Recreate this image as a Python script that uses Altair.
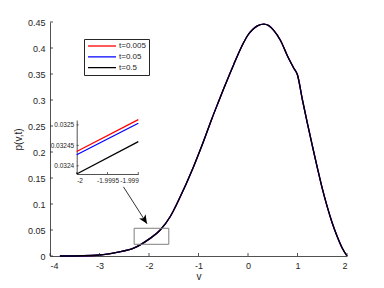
import altair as alt
import pandas as pd

# ---- data ----
series = ["t=0.005", "t=0.05", "t=0.5"]
colors = ["#ff0000", "#0000ff", "#000000"]

v_main = [-3.8, -3.33, -3.0, -2.65, -2.31, -2.0, -1.773, -1.57, -1.40, -1.10, -0.90,
          -0.73, -0.59, -0.49, -0.29, -0.09, 0.0, 0.1, 0.2, 0.32, 0.42, 0.52, 0.66, 0.80,
          0.92, 1.0, 1.1, 1.2, 1.3, 1.4, 1.5, 1.6, 1.7, 1.8, 1.9, 2.0]
p_main = [0.0, 0.0005, 0.0019, 0.0071, 0.0150, 0.0324, 0.050, 0.076, 0.1077, 0.1717, 0.220,
          0.264, 0.298, 0.322, 0.368, 0.410, 0.425, 0.436, 0.443, 0.446, 0.443, 0.434, 0.414,
          0.384, 0.362, 0.348, 0.300, 0.255, 0.212, 0.170, 0.130, 0.095, 0.064, 0.038, 0.016,
          0.0]

inset_v = [-2.0, -1.999]
inset_red = [0.032435, 0.032513]
inset_blue = [0.032427, 0.032504]
inset_black = [0.032380, 0.032459]

main_xticks = [-4, -3, -2, -1, 0, 1, 2]
main_yticks = [0, 0.05, 0.1, 0.15, 0.2, 0.25, 0.3, 0.35, 0.4, 0.45]
inset_xticks = [-2, -1.9995, -1.999]
inset_yticks = [0.0324, 0.03245, 0.0325]

zoom_box_v = [-2.3, -1.6]
zoom_box_p = [0.0225, 0.0533]
arrow_v = [-2.516, -2.04]
arrow_p = [0.133, 0.062]

AX = "#262626"
W, H = 297, 234

# ---- main panel ----
xs = alt.Scale(domain=[-4, 2], nice=False, zero=False)
ys = alt.Scale(domain=[0, 0.45], nice=False, zero=False)

df_main = pd.DataFrame([
    {"v": v, "p": p, "t": s}
    for s in series for v, p in zip(v_main, p_main)
])

xaxis = alt.Axis(values=main_xticks, title="v", tickSize=0, labelPadding=5,
                 titleY=23, titleBaseline="alphabetic", labelExpr="'' + datum.value",
                 grid=False, labelFontSize=9, titleFontSize=10)
yaxis = alt.Axis(values=main_yticks, title="p(v,t)", tickSize=0, labelPadding=5,
                 titlePadding=4, labelExpr="'' + datum.value", grid=False,
                 labelFontSize=9, titleFontSize=10)

legend = alt.Legend(title=None, orient="none", legendX=34, legendY=17,
                    symbolType="stroke", symbolSize=784, symbolStrokeWidth=1.3,
                    clipHeight=8, labelFontSize=8, labelOffset=2, padding=3,
                    rowPadding=2.8, strokeColor=AX, fillColor="white", labelColor=AX)

base = alt.Chart(df_main).mark_line(strokeWidth=1.3, interpolate="monotone").encode(
    x=alt.X("v:Q", scale=xs, axis=xaxis),
    y=alt.Y("p:Q", scale=ys, axis=yaxis),
    color=alt.Color("t:N", scale=alt.Scale(domain=series, range=colors), legend=legend),
)
main_lines = [base.transform_filter(alt.datum.t == s) for s in series]

xt = alt.Chart(pd.DataFrame({"v": main_xticks})).mark_rule(color=AX, strokeWidth=0.8).encode(
    x=alt.X("v:Q", scale=xs, axis=xaxis), y=alt.value(H), y2=alt.value(H - 3))
yt = alt.Chart(pd.DataFrame({"p": main_yticks})).mark_rule(color=AX, strokeWidth=0.8).encode(
    y=alt.Y("p:Q", scale=ys, axis=yaxis), x=alt.value(0), x2=alt.value(3))

box = alt.Chart(pd.DataFrame({"v1": [zoom_box_v[0]], "v2": [zoom_box_v[1]],
                              "p1": [zoom_box_p[0]], "p2": [zoom_box_p[1]]})).mark_rect(
    fillOpacity=0, stroke="#7f7f7f", strokeWidth=1).encode(
    x=alt.X("v1:Q", scale=xs, axis=xaxis), x2="v2:Q",
    y=alt.Y("p1:Q", scale=ys, axis=yaxis), y2="p2:Q")

arrow_df = pd.DataFrame({"v": arrow_v, "p": arrow_p, "i": [0, 1]})
arrow_line = alt.Chart(arrow_df).mark_line(color="#000000", strokeWidth=0.8).encode(
    x=alt.X("v:Q", scale=xs, axis=xaxis), y=alt.Y("p:Q", scale=ys, axis=yaxis), order="i:Q")
arrow_head = alt.Chart(arrow_df.iloc[[1]]).mark_point(
    shape="M0,0L-0.45,1L0,0.75L0.45,1Z", filled=True, color="#000000", opacity=1,
    size=300, angle=147).encode(
    x=alt.X("v:Q", scale=xs, axis=xaxis), y=alt.Y("p:Q", scale=ys, axis=yaxis))

main = alt.layer(*main_lines, box, arrow_line, arrow_head, xt, yt)

# ---- inset panel ----
IX0, IX1, IY0, IY1 = 26.7, 88.3, 152, 98
ixs = alt.Scale(domain=[-2, -1.999], range=[IX0, IX1], nice=False, zero=False)
iys = alt.Scale(domain=[0.03238, 0.032512], range=[IY0, IY1], nice=False, zero=False)

ixaxis = alt.Axis(orient="bottom", offset=-(H - IY0), values=inset_xticks, title=None,
                  tickSize=0, labelPadding=3, labelFontSize=6.5, labelExpr="'' + datum.value",
                  labelOverlap=False, labelBound=False, grid=False)
iyaxis = alt.Axis(orient="left", offset=-IX0, values=inset_yticks, title=None,
                  tickSize=0, labelPadding=3, labelFontSize=6.5, labelExpr="'' + datum.value",
                  labelOverlap=False, grid=False)

inset_layers = []
for vals, c in zip([inset_red, inset_blue, inset_black], colors):
    d = pd.DataFrame({"v": inset_v, "p": vals})
    inset_layers.append(alt.Chart(d).mark_line(color=c, strokeWidth=1.3).encode(
        x=alt.X("v:Q", scale=ixs, axis=ixaxis),
        y=alt.Y("p:Q", scale=iys, axis=iyaxis)))

ixt = alt.Chart(pd.DataFrame({"v": inset_xticks})).mark_rule(color=AX, strokeWidth=0.7).encode(
    x=alt.X("v:Q", scale=ixs, axis=ixaxis), y=alt.value(IY0), y2=alt.value(IY0 - 2))
iyt = alt.Chart(pd.DataFrame({"p": inset_yticks})).mark_rule(color=AX, strokeWidth=0.7).encode(
    y=alt.Y("p:Q", scale=iys, axis=iyaxis), x=alt.value(IX0), x2=alt.value(IX0 + 2))

inset = alt.layer(*inset_layers, ixt, iyt)

chart = alt.layer(main, inset).resolve_scale(x="independent", y="independent").properties(
    width=W, height=H,
    autosize=alt.AutoSizeParams(type="none"),
    padding={"left": 42, "top": 14, "right": 29, "bottom": 24},
).configure(font="Liberation Sans").configure_view(stroke=None).configure_axis(
    domainColor=AX, labelColor=AX, titleColor=AX,
    titleFontWeight="normal", domainWidth=0.8,
).configure_legend(labelFont="Liberation Sans")

chart.save("out.html", embed_options={"renderer": "svg", "actions": False})
